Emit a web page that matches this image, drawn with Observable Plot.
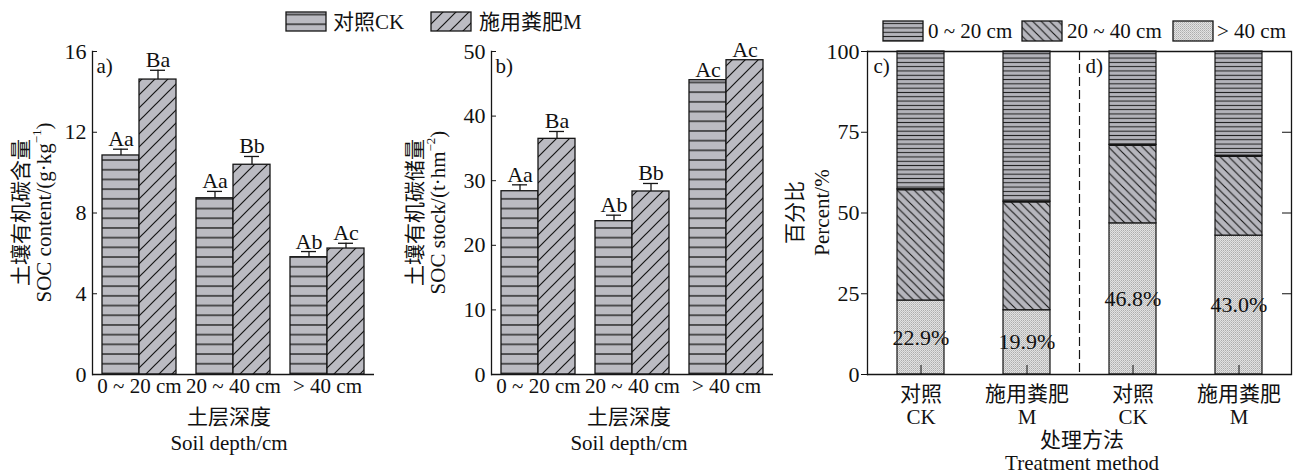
<!DOCTYPE html>
<html>
<head>
<meta charset="utf-8">
<script src="https://cdn.jsdelivr.net/npm/d3@7"></script>
<script src="https://cdn.jsdelivr.net/npm/@observablehq/plot@0.6"></script>
<style>
  body { margin: 0; background: #fff; }
  #wrap { position: relative; width: 1299px; height: 476px; overflow: hidden;
          font-family: "Liberation Serif", "Noto Sans CJK SC", serif; }
  #wrap > svg { position: absolute; top: 0; }
</style>
</head>
<body>
<svg width="0" height="0" style="position:absolute">
  <defs>
    <pattern id="hCK" patternUnits="userSpaceOnUse" width="10" height="9.7">
      <rect width="10" height="9.7" fill="#bbbbc2"/>
      <line x1="0" x2="10" y1="4.85" y2="4.85" stroke="#151515" stroke-width="1.3"/>
    </pattern>
    <pattern id="hM" patternUnits="userSpaceOnUse" width="13" height="13">
      <rect width="13" height="13" fill="#bbbbc2"/>
      <path d="M0,13 L13,0 M-2,2 L2,-2 M11,15 L15,11" stroke="#151515" stroke-width="1.2"/>
    </pattern>
    <pattern id="c020" patternUnits="userSpaceOnUse" width="10" height="4.3">
      <rect width="10" height="4.3" fill="#b3b3ba"/>
      <line x1="0" x2="10" y1="2.15" y2="2.15" stroke="#1a1a1a" stroke-width="1"/>
    </pattern>
    <pattern id="c2040" patternUnits="userSpaceOnUse" width="8.5" height="8.5">
      <rect width="8.5" height="8.5" fill="#b6b6bd"/>
      <path d="M0,0 L8.5,8.5 M-2,6.5 L2,10.5 M6.5,-2 L10.5,2" stroke="#151515" stroke-width="1.1"/>
    </pattern>
    <pattern id="c40" patternUnits="userSpaceOnUse" width="2" height="2">
      <rect width="2" height="2" fill="#e2e2e2"/>
      <rect x="0" y="0" width="1" height="1" fill="#adadad"/>
      <rect x="1" y="1" width="1" height="1" fill="#c2c2c2"/>
    </pattern>
  </defs>
</svg>
<div id="wrap"></div>
<script>
// ---------- data ----------
const depths = ["0 ~ 20 cm", "20 ~ 40 cm", "> 40 cm"];
const treatments = ["CK", "M"];
const treatmentNames = ["对照CK", "施用粪肥M"];

const socContentCK = [10.85, 8.73, 5.81];
const socContentM = [14.61, 10.39, 6.24];
const socContentErrCK = [0.31, 0.34, 0.28];
const socContentErrM = [0.46, 0.41, 0.26];
const socContentLetterCK = ["Aa", "Aa", "Ab"];
const socContentLetterM = ["Ba", "Bb", "Ac"];
const socContentTicks = [0, 4, 8, 12, 16];

const socStockCK = [28.37, 23.73, 45.56];
const socStockM = [36.48, 28.33, 48.65];
const socStockErrCK = [0.99, 0.93, 0];
const socStockErrM = [1.14, 1.24, 0];
const socStockLetterCK = ["Aa", "Ab", "Ac"];
const socStockLetterM = ["Ba", "Bb", "Ac"];
const socStockTicks = [0, 10, 20, 30, 40, 50];

const panelsCD = ["c)", "d)"];
const treatmentTicks = ["对照\nCK", "施用粪肥\nM"];
const layers = ["0 ~ 20 cm", "20 ~ 40 cm", "> 40 cm"];
const pctContentCK = [42.7, 34.4, 22.9];
const pctContentM = [46.5, 33.6, 19.9];
const pctStockCK = [28.9, 24.3, 46.8];
const pctStockM = [32.3, 24.7, 43.0];
const pctTicks = [0, 25, 50, 75, 100];

// ---------- helpers ----------
const FONT = '"Liberation Serif", "Noto Sans CJK SC", serif';
const INK = "#151515";
const FS = 21;
const wrap = document.getElementById("wrap");

function rowsFor(ck, m, eck, em, lck, lm) {
  return depths.flatMap((d, i) => [
    {depth: d, treatment: "CK", value: ck[i], err: eck[i], letter: lck[i]},
    {depth: d, treatment: "M", value: m[i], err: em[i], letter: lm[i]}
  ]);
}

function title(svg, x, y, rotate, parts, size = FS) {
  const t = d3.select(svg).append("text")
    .attr("transform", `translate(${x},${y})` + (rotate ? " rotate(-90)" : ""))
    .attr("text-anchor", "middle").attr("dominant-baseline", "central")
    .attr("font-family", FONT).attr("font-size", size).attr("fill", "#111");
  parts.forEach(p => {
    if (typeof p === "string") t.append("tspan").text(p);
    else {
      t.append("tspan").attr("dy", -8).attr("font-size", 13).text(p.sup);
      t.append("tspan").attr("dy", 8).text(p.after);
    }
  });
}

function place(svg, left) {
  svg.style.position = "absolute";
  svg.style.left = left + "px";
  svg.style.top = "0px";
  wrap.appendChild(svg);
  return svg;
}

function barPanel(rows, {width, marginLeft, marginRight, yMax, ticks, tag}) {
  const withErr = rows.filter(d => d.err > 0);
  return Plot.plot({
    width, height: 476, marginLeft, marginRight, marginTop: 51, marginBottom: 102,
    style: {fontFamily: FONT, fontSize: FS + "px", color: "#111", background: "transparent", overflow: "visible"},
    fx: {domain: depths, padding: 0, label: null},
    x: {domain: treatments, paddingInner: 0, paddingOuter: 0.245, axis: null},
    y: {domain: [0, yMax]},
    color: {type: "ordinal", domain: treatments, range: ["url(#hCK)", "url(#hM)"]},
    marks: [
      Plot.barY(rows, {fx: "depth", x: "treatment", y: "value", fill: "treatment", stroke: INK, strokeWidth: 1.3}),
      Plot.ruleX(withErr, {fx: "depth", x: "treatment", y1: "value", y2: d => d.value + d.err, stroke: INK, strokeWidth: 1.3}),
      Plot.tickY(withErr, {fx: "depth", x: "treatment", y: d => d.value + d.err, insetLeft: 11, insetRight: 11, stroke: INK, strokeWidth: 1.3}),
      Plot.text(rows, {fx: "depth", x: "treatment", y: d => d.value + d.err, text: "letter", lineAnchor: "bottom", dy: -3, fontSize: 22, fill: "#111"}),
      Plot.ruleY([0], {stroke: INK, strokeWidth: 1.3}),
      Plot.frame({anchor: "left", facetAnchor: "left", stroke: INK, strokeWidth: 1.3}),
      Plot.axisY({ticks, tickSize: -5, tickPadding: 11, label: null, stroke: INK, fontSize: 22}),
      Plot.axisFx({anchor: "bottom", tickSize: 0, tickPadding: 4, label: null, fontSize: 21}),
      Plot.text([tag], {text: d => d, frameAnchor: "top-left", facetAnchor: "left", dx: 4, dy: 7, fontSize: 21, fill: "#111"})
    ]
  });
}

// ---------- panel a ----------
const rowsA = rowsFor(socContentCK, socContentM, socContentErrCK, socContentErrM, socContentLetterCK, socContentLetterM);
const svgA = place(barPanel(rowsA, {width: 400, marginLeft: 92, marginRight: 26, yMax: 16, ticks: socContentTicks, tag: "a)"}), 0);
title(svgA, 21, 212.5, true, ["土壤有机碳含量"], 21);
title(svgA, 44, 212.5, true, ["SOC content/(g·kg", {sup: "−1", after: ")"}]);
title(svgA, 229, 417, false, ["土层深度"]);
title(svgA, 229, 443, false, ["Soil depth/cm"]);

// ---------- panel b ----------
const rowsB = rowsFor(socStockCK, socStockM, socStockErrCK, socStockErrM, socStockLetterCK, socStockLetterM);
const leftB = 395;
const svgB = place(barPanel(rowsB, {width: 390, marginLeft: 95, marginRight: 12, yMax: 50, ticks: socStockTicks, tag: "b)"}), leftB);
title(svgB, 415 - leftB, 212.5, true, ["土壤有机碳储量"], 21);
title(svgB, 438 - leftB, 212.5, true, ["SOC stock/(t·hm", {sup: "−2", after: ")"}]);
title(svgB, 629 - leftB, 417, false, ["土层深度"]);
title(svgB, 629 - leftB, 443, false, ["Soil depth/cm"]);

// ---------- panels c / d ----------
const rowsC = [];
const bounds = [];
[[pctContentCK, pctContentM], [pctStockCK, pctStockM]].forEach((pair, p) => {
  pair.forEach((arr, t) => {
    [2, 1, 0].forEach(li => rowsC.push({panel: panelsCD[p], treatment: treatmentTicks[t], layer: layers[li], value: arr[li]}));
    bounds.push({panel: panelsCD[p], treatment: treatmentTicks[t], top: arr[2] + arr[1]});
  });
});
const deepRows = rowsC.filter(d => d.layer === layers[2]);
const leftC = 775;
const svgC = place(Plot.plot({
  width: 524, height: 476, marginLeft: 92, marginRight: 8, marginTop: 51, marginBottom: 102,
  style: {fontFamily: FONT, fontSize: FS + "px", color: "#111", background: "transparent", overflow: "visible"},
  fx: {domain: panelsCD, padding: 0, axis: null, label: null},
  x: {domain: treatmentTicks, paddingInner: 0.557, paddingOuter: 0.2785},
  y: {domain: [0, 100]},
  color: {type: "ordinal", domain: layers, range: ["url(#c020)", "url(#c2040)", "url(#c40)"]},
  marks: [
    Plot.barY(rowsC, {fx: "panel", x: "treatment", y: "value", fill: "layer", stroke: INK, strokeWidth: 1.2}),
    Plot.tickY(bounds, {fx: "panel", x: "treatment", y: "top", stroke: INK, strokeWidth: 2.2}),
    Plot.text(deepRows, {fx: "panel", x: "treatment", y: d => d.value / 2, text: d => d.value.toFixed(1) + "%", fontSize: 22, fill: "#111"}),
    Plot.ruleY([0, 100], {stroke: INK, strokeWidth: 1.3}),
    Plot.frame({anchor: "left", facetAnchor: "left", stroke: INK, strokeWidth: 1.3}),
    Plot.frame({anchor: "right", facetAnchor: "right", stroke: INK, strokeWidth: 1.3}),
    Plot.frame({anchor: "left", facetAnchor: "right", stroke: INK, strokeWidth: 1.2, strokeDasharray: "8,5"}),
    Plot.axisY({ticks: pctTicks, tickSize: 6, tickPadding: 2, label: null, fontSize: 22}),
    Plot.axisY({anchor: "right", ticks: [25, 50, 75], tickSize: -10, tickFormat: () => "", label: null}),
    Plot.axisX({tickSize: -9, tickPadding: 19, label: null, lineHeight: 1.1, fontSize: 21}),
    Plot.text(panelsCD, {fx: d => d, text: d => d, frameAnchor: "top-left", dx: 6, dy: 7, fontSize: 21, fill: "#111"})
  ]
}), leftC);
title(svgC, 795 - leftC, 212.5, true, ["百分比"], 21);
title(svgC, 822 - leftC, 212.5, true, ["Percent/%"]);
title(svgC, 1082 - leftC, 440, false, ["处理方法"]);
title(svgC, 1082 - leftC, 463, false, ["Treatment method"]);

// ---------- legends ----------
const leg = d3.select(wrap).append("svg")
  .attr("width", 1299).attr("height", 50)
  .style("position", "absolute").style("left", "0px").style("top", "0px")
  .attr("font-family", FONT).attr("font-size", 21).attr("fill", "#111");
const legA = [
  {x: 286, tx: 333, fill: "url(#hCK)", label: treatmentNames[0]},
  {x: 431, tx: 479, fill: "url(#hM)", label: treatmentNames[1]}
];
legA.forEach(d => {
  leg.append("rect").attr("x", d.x).attr("y", 12).attr("width", 40).attr("height", 19)
    .attr("fill", d.fill).attr("stroke", INK).attr("stroke-width", 1.3);
  leg.append("text").attr("x", d.tx).attr("y", 21.5).attr("dominant-baseline", "central").text(d.label);
});
const legC = [
  {x: 883, tx: 928, fill: "url(#c020)", label: layers[0]},
  {x: 1022, tx: 1067, fill: "url(#c2040)", label: layers[1]},
  {x: 1173, tx: 1217, fill: "url(#c40)", label: layers[2]}
];
legC.forEach(d => {
  leg.append("rect").attr("x", d.x).attr("y", 21).attr("width", 40).attr("height", 20)
    .attr("fill", d.fill).attr("stroke", INK).attr("stroke-width", 1.3);
  leg.append("text").attr("x", d.tx).attr("y", 31).attr("dominant-baseline", "central").text(d.label);
});
</script>
</body>
</html>
